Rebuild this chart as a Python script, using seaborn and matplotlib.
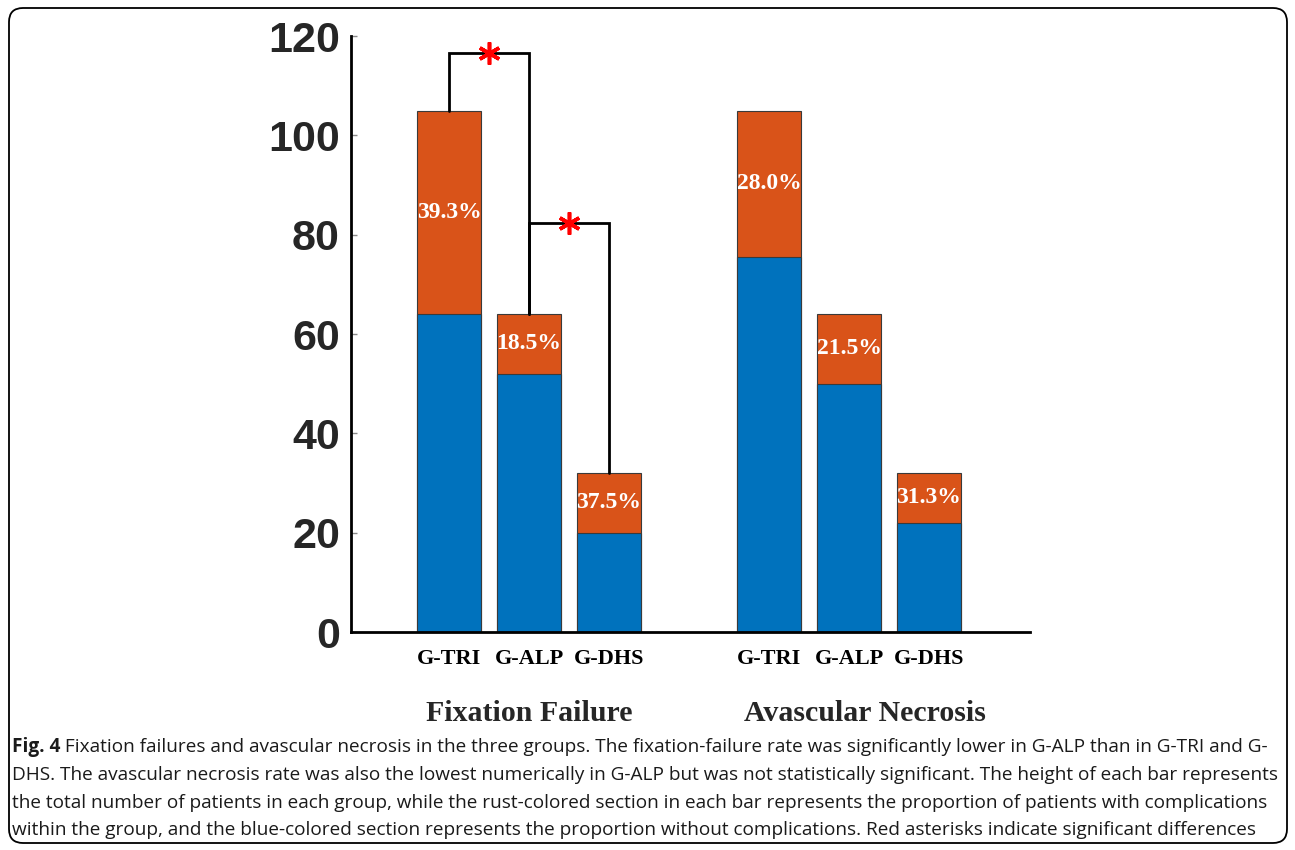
import matplotlib
matplotlib.use("Agg")
import matplotlib.pyplot as plt
from matplotlib.patches import FancyBboxPatch
from matplotlib.transforms import IdentityTransform, blended_transform_factory
import seaborn as sns
import pandas as pd

# values
groups = ["Fixation Failure", "Avascular Necrosis"]
categories = ["G-TRI", "G-ALP", "G-DHS"]
totals = [105, 64, 32]
no_compl_ff = [64, 52, 20]
no_compl_avn = [75.5, 50, 22]
pct_ff = ["39.3%", "18.5%", "37.5%"]
pct_avn = ["28.0%", "21.5%", "31.3%"]
# significance brackets in fixation failure: (left bar, right bar, height)
brackets = [(0, 1, 116.5), (1, 2, 82.4)]

caption_lines = [
    " Fixation failures and avascular necrosis in the three groups. The fixation-failure rate was significantly lower in G-ALP than in G-TRI and G-",
    "DHS. The avascular necrosis rate was also the lowest numerically in G-ALP but was not statistically significant. The height of each bar represents",
    "the total number of patients in each group, while the rust-colored section in each bar represents the proportion of patients with complications",
    "within the group, and the blue-colored section represents the proportion without complications. Red asterisks indicate significant differences",
]

BLUE = "#0072BD"
ORANGE = "#D95319"

rows = []
for g, (grp, lower, pcts) in enumerate(zip(groups, [no_compl_ff, no_compl_avn], [pct_ff, pct_avn])):
    for c, cat in enumerate(categories):
        rows.append({"group": grp, "cat": cat, "pos": g * 4 + c,
                     "total": totals[c], "lower": lower[c], "pct": pcts[c]})
df = pd.DataFrame(rows)

sns.set_style("ticks")
fig = plt.figure(figsize=(12.95, 8.5), dpi=100)
W, H = 1295, 850
ax = fig.add_axes([351 / W, 218 / H, (1030 - 351) / W, (632 - 36) / H])

sns.barplot(data=df, x="pos", y="total", native_scale=True, color=ORANGE,
            saturation=1, width=0.8, edgecolor="#3a3a3a", linewidth=0.8,
            errorbar=None, ax=ax)
sns.barplot(data=df, x="pos", y="lower", native_scale=True, color=BLUE,
            saturation=1, width=0.8, edgecolor="#3a3a3a", linewidth=0.8,
            errorbar=None, ax=ax)

# percentage labels in the rust segments
for _, r in df.iterrows():
    ax.text(r["pos"], (r["total"] + r["lower"]) / 2, r["pct"], ha="center",
            va="center", color="white", fontsize=17, fontweight="bold",
            family="Liberation Serif")

# significance brackets
ff = df[df["group"] == groups[0]].reset_index(drop=True)
for a, b, h in brackets:
    xa, xb = ff.loc[a, "pos"], ff.loc[b, "pos"]
    ax.plot([xa, xa, xb, xb], [ff.loc[a, "total"], h, h, ff.loc[b, "total"]],
            color="black", lw=2, solid_joinstyle="miter", zorder=3)
    ax.plot([(xa + xb) / 2], [h], marker=(6, 2, 0), color="red",
            markersize=16, mew=2.6, zorder=4)

ax.set_xlim(-1.225, 7.2625)
ax.set_ylim(0, 120)
ax.set_yticks(range(0, 121, 20))
ax.set_xticks(df["pos"])
ax.set_xticklabels(df["cat"], family="Liberation Serif", fontweight="bold",
                   fontsize=16, color="black")
for lbl in ax.get_yticklabels():
    lbl.set_family("Liberation Sans")
    lbl.set_fontweight("bold")
    lbl.set_fontsize(31)
    lbl.set_color("#262626")
ax.tick_params(axis="x", length=0, pad=12)
ax.tick_params(axis="y", direction="in", length=4, width=1, color="#888888", pad=8)
ax.set_xlabel("")
ax.set_ylabel("")
sns.despine(ax=ax)
for s in ["left", "bottom"]:
    ax.spines[s].set_linewidth(2)
    ax.spines[s].set_color("black")

# group titles under the categories (second one sits a little right of centre)
trans = blended_transform_factory(ax.transData, ax.transAxes)
for grp, shift in zip(groups, [0.0, 0.2]):
    xc = df.loc[df["group"] == grp, "pos"].mean() + shift
    ax.text(xc, -0.137, grp, transform=trans, ha="center", va="center",
            family="Liberation Serif", fontweight="bold", fontsize=21.5)

# rounded frame around figure + caption
fig.add_artist(FancyBboxPatch((9, 7), 1278, 835, boxstyle="round,pad=0,rounding_size=14",
                              transform=IdentityTransform(), fill=False,
                              edgecolor="black", linewidth=1.3))

fig.canvas.draw()
renderer = fig.canvas.get_renderer()
cap_font = "Open Sans"
base = 10
probe = fig.text(0, 0, caption_lines[1], fontsize=base, family=cap_font)
wpx = probe.get_window_extent(renderer).width
probe.remove()
cap_size = base * 1271 / wpx

ys = [747, 775, 803, 830]
head = fig.text(12 / W, 1 - ys[0] / H, "Fig. 4", fontsize=cap_size, family=cap_font,
                fontweight="bold", va="center", color="#1a1a1a")
x_after = head.get_window_extent(renderer).x1
fig.text(x_after / W, 1 - ys[0] / H, caption_lines[0], fontsize=cap_size,
         family=cap_font, va="center", color="#1a1a1a")
for line, y in zip(caption_lines[1:], ys[1:]):
    fig.text(12 / W, 1 - y / H, line, fontsize=cap_size, family=cap_font,
             va="center", color="#1a1a1a")

fig.savefig("out.png", dpi=100)
